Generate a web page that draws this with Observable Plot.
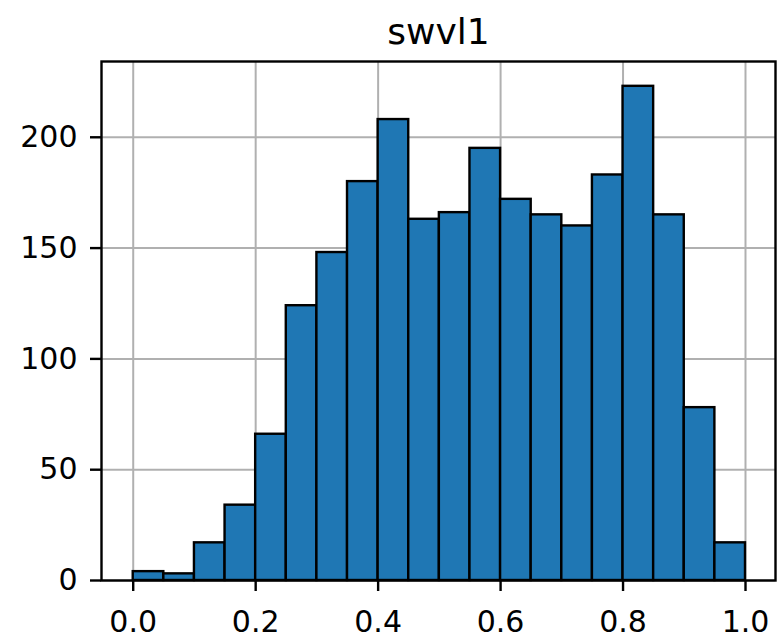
<!DOCTYPE html>
<html>
<head>
<meta charset="utf-8">
<script src="https://cdn.jsdelivr.net/npm/d3@7"></script>
<script src="https://cdn.jsdelivr.net/npm/@observablehq/plot@0.6"></script>
<style>
  html, body { margin: 0; padding: 0; background: #fff; }
</style>
</head>
<body>
<div id="chart"></div>
<script>
const title = "swvl1";
const binStart = [0.00, 0.05, 0.10, 0.15, 0.20, 0.25, 0.30, 0.35, 0.40, 0.45,
                  0.50, 0.55, 0.60, 0.65, 0.70, 0.75, 0.80, 0.85, 0.90, 0.95];
const binEnd   = [0.05, 0.10, 0.15, 0.20, 0.25, 0.30, 0.35, 0.40, 0.45, 0.50,
                  0.55, 0.60, 0.65, 0.70, 0.75, 0.80, 0.85, 0.90, 0.95, 1.00];
const counts   = [4, 3, 17, 34, 66, 124, 148, 180, 208, 163,
                  166, 195, 172, 165, 160, 183, 223, 165, 78, 17];
const xTicks = [0.0, 0.2, 0.4, 0.6, 0.8, 1.0];
const yTicks = [0, 50, 100, 150, 200];

const bins = binStart.map((s, i) => ({x1: s, x2: binEnd[i], y: counts[i]}));

const chart = Plot.plot({
  width: 777,
  height: 644,
  marginLeft: 101,
  marginRight: 2,
  marginTop: 61,
  marginBottom: 64,
  style: {fontFamily: "DejaVu Sans", fontSize: "30px", color: "#000", background: "#fff"},
  x: {domain: [-0.0518, 1.049]},
  y: {domain: [0, 234.2]},
  marks: [
    Plot.gridX(xTicks, {stroke: "#b0b0b0", strokeOpacity: 1, strokeWidth: 2}),
    Plot.gridY(yTicks, {stroke: "#b0b0b0", strokeOpacity: 1, strokeWidth: 2}),
    Plot.rectY(bins, {x1: "x1", x2: "x2", y: "y", fill: "#1f77b4", stroke: "#000", strokeWidth: 2.4, inset: 0}),
    Plot.axisX(xTicks, {tickSize: 11, tickPadding: 19, strokeWidth: 2.4, tickFormat: d3.format(".1f"), label: null}),
    Plot.axisY(yTicks, {tickSize: 11, tickPadding: 13, strokeWidth: 2.4, label: null}),
    Plot.frame({stroke: "#000", strokeWidth: 2.4}),
    Plot.text([title], {frameAnchor: "top", text: d => d, dy: -18, lineAnchor: "bottom", fontSize: 36})
  ]
});
document.getElementById("chart").append(chart);
</script>
</body>
</html>
